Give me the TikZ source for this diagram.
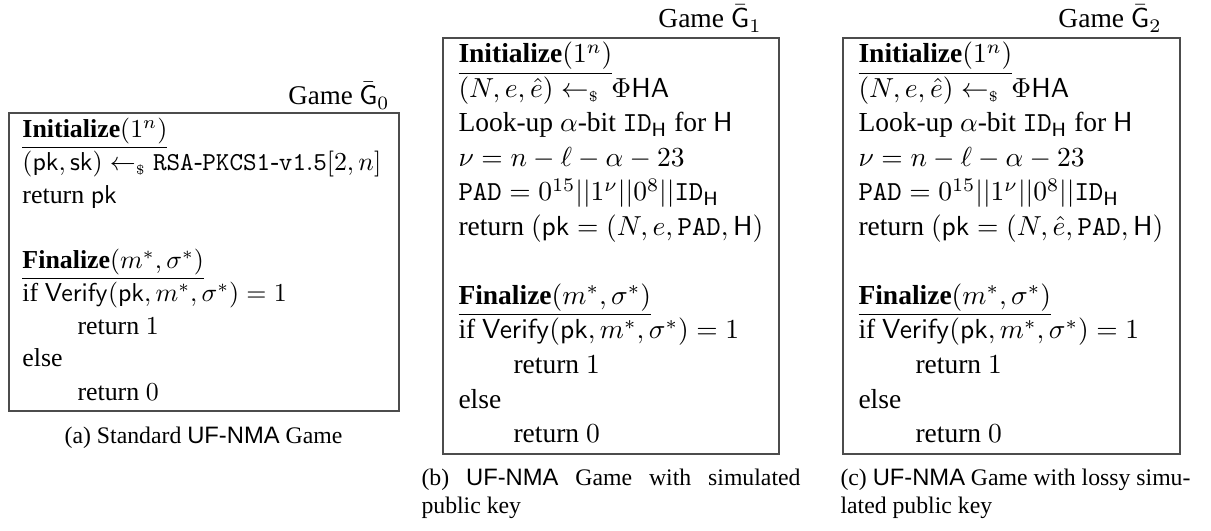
\RequirePackage{fix-cm}
\documentclass[tikz,border=0pt]{standalone}
\usepackage[no-math]{fontspec}
\setmainfont{Liberation Serif}
\newfontfamily\capsans{Liberation Sans}
\newcommand{\fa}{\fontsize{10.35}{12.4}\selectfont}
\newcommand{\fb}{\fontsize{11}{13.2}\selectfont}
\newcommand{\fc}{\fontsize{9.5}{11.4}\selectfont}
\newcommand{\sv}[1]{\mathsf{#1}}
\newcommand{\smp}{\leftarrow_{\scriptscriptstyle\$}}
\tikzset{
  gbox/.style={draw=black!70, line width=0.45pt},
  lna/.style={anchor=base west, inner sep=0pt, font=\fa},
  lnb/.style={anchor=base west, inner sep=0pt, font=\fb},
  ttla/.style={anchor=base east, inner sep=0pt, font=\fontsize{10.8}{13}\selectfont},
  ttlb/.style={anchor=base east, inner sep=0pt, font=\fb},
  captxt/.style={anchor=base west, inner sep=0pt, font=\fc},
}
\begin{document}
\begin{tikzpicture}[x=0.4pt,y=-0.4pt]
\useasboundingbox (0,0) rectangle (1211,531);
% ---------- Game G0 ----------
\node[ttla] (ta) at (390,105) {Game $\bar{\sv{G}}_0$};
\draw[gbox] (9,113) rectangle (399,411);
\node[lna] (a1) at (22,138) {\underline{\textbf{Initialize}$(1^n)$}};
\node[lna] (a2) at (22,170.75) {$(\sv{pk},\sv{sk}) \smp \mathtt{RSA\mbox{-}PKCS1\mbox{-}v1.5}[2,n]$};
\node[lna] (a3) at (22,203.5) {return $\sv{pk}$};
\node[lna] (a4) at (22,269) {\underline{\textbf{Finalize}$(m^*,\sigma^*)$}};
\node[lna] (a5) at (22,301.75) {if $\sv{Verify}(\sv{pk},m^*,\sigma^*)=1$};
\node[lna] (a6) at (77,334.5) {return $1$};
\node[lna] (a7) at (22,367) {else};
\node[lna] (a8) at (77,400) {return $0$};
\node[captxt,anchor=base] (ca) at (203.5,443) {(a) Standard {\capsans UF-NMA} Game};
% ---------- Game G1 ----------
\node[ttlb] (tb) at (762,28) {Game $\bar{\sv{G}}_1$};
\draw[gbox] (443,38) rectangle (779,454);
\node[lnb] (b1) at (458,63) {\underline{\textbf{Initialize}$(1^n)$}};
\node[lnb] (b2) at (458,97.5) {$(N,e,\hat{e}) \smp \,\Phi\sv{HA}$};
\node[lnb] (b3) at (458,132) {Look-up $\alpha$-bit $\mathtt{ID}_{\sv{H}}$ for $\sv{H}$};
\node[lnb] (b4) at (458,166.5) {$\nu = n-\ell-\alpha-23$};
\node[lnb] (b5) at (458,201) {$\mathtt{PAD} = 0^{15}||1^{\nu}||0^{8}||\mathtt{ID}_{\sv{H}}$};
\node[lnb] (b6) at (458,235.5) {return $(\sv{pk}=(N,e,\mathtt{PAD},\sv{H})$};
\node[lnb] (b7) at (458,304.5) {\underline{\textbf{Finalize}$(m^*,\sigma^*)$}};
\node[lnb] (b8) at (458,339) {if $\sv{Verify}(\sv{pk},m^*,\sigma^*)=1$};
\node[lnb] (b9) at (513,373.5) {return $1$};
\node[lnb] (b10) at (458,408) {else};
\node[lnb] (b11) at (513,442.5) {return $0$};
\node[captxt] (cb1) at (421,485) {\makebox[151.6pt][s]{(b) {\capsans UF-NMA} Game with simulated}};
\node[captxt] (cb2) at (421,513) {public key};
% ---------- Game G2 ----------
\node[ttlb] (tc) at (1162,28) {Game $\bar{\sv{G}}_2$};
\draw[gbox] (843,38) rectangle (1180,454);
\node[lnb] (c1) at (858,63) {\underline{\textbf{Initialize}$(1^n)$}};
\node[lnb] (c2) at (858,97.5) {$(N,e,\hat{e}) \smp \,\Phi\sv{HA}$};
\node[lnb] (c3) at (858,132) {Look-up $\alpha$-bit $\mathtt{ID}_{\sv{H}}$ for $\sv{H}$};
\node[lnb] (c4) at (858,166.5) {$\nu = n-\ell-\alpha-23$};
\node[lnb] (c5) at (858,201) {$\mathtt{PAD} = 0^{15}||1^{\nu}||0^{8}||\mathtt{ID}_{\sv{H}}$};
\node[lnb] (c6) at (858,235.5) {return $(\sv{pk}=(N,\hat{e},\mathtt{PAD},\sv{H})$};
\node[lnb] (c7) at (858,304.5) {\underline{\textbf{Finalize}$(m^*,\sigma^*)$}};
\node[lnb] (c8) at (858,339) {if $\sv{Verify}(\sv{pk},m^*,\sigma^*)=1$};
\node[lnb] (c9) at (915,373.5) {return $1$};
\node[lnb] (c10) at (858,408) {else};
\node[lnb] (c11) at (915,442.5) {return $0$};
\node[captxt] (cc1) at (840,485) {\makebox[140pt][s]{(c) {\capsans UF-NMA} Game with lossy simu-}};
\node[captxt] (cc2) at (840,513) {lated public key};
\end{tikzpicture}
\end{document}
